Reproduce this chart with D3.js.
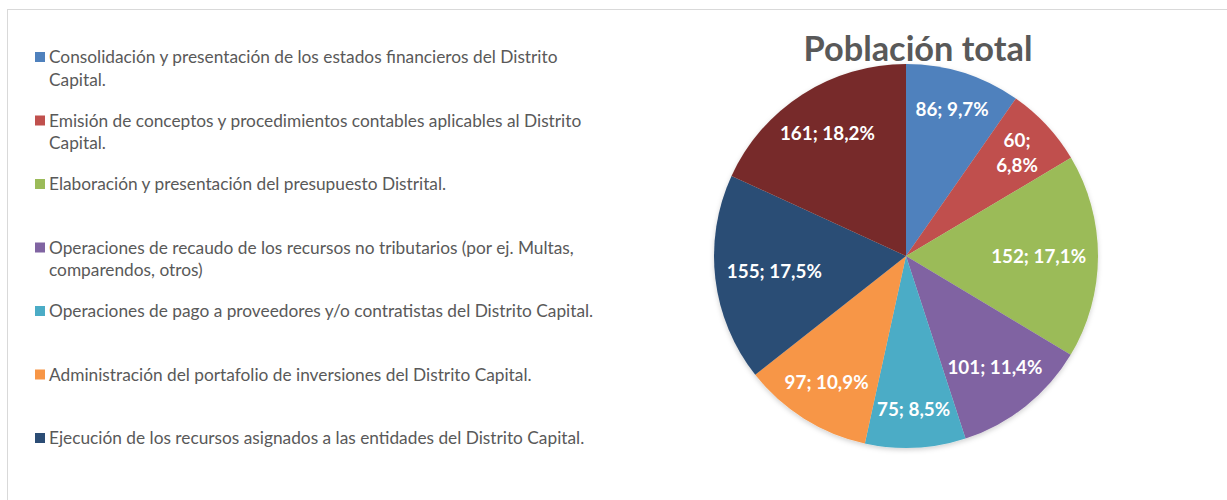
<!DOCTYPE html>
<html>
<head>
<meta charset="utf-8">
<script src="https://cdn.jsdelivr.net/npm/d3@7"></script>
<style>
  body { margin: 0; background: #fff; }
  svg { display: block; }
</style>
</head>
<body>
<div id="chart"></div>
<script>
// ---- data ----
const title = "Población total";
const categories = [
  "Consolidación y presentación de los estados financieros del Distrito Capital.",
  "Emisión de conceptos y procedimientos contables aplicables al Distrito Capital.",
  "Elaboración y presentación del presupuesto Distrital.",
  "Operaciones de recaudo de los recursos no tributarios (por ej. Multas, comparendos, otros)",
  "Operaciones de pago a proveedores y/o contratistas del Distrito Capital.",
  "Administración del portafolio de inversiones del Distrito Capital.",
  "Ejecución de los recursos asignados a las entidades del Distrito Capital."
];
const values = [86, 60, 152, 101, 75, 97, 155, 161];
const colors = ["#4F81BD", "#C0504D", "#9BBB59", "#8064A2", "#4BACC6", "#F79646", "#2C4D75", "#772C2A"];

(function () {
  const width = 1227, height = 500;
  const font = "Lato, 'Open Sans', sans-serif";
  const grey = "#595959";

  const svg = d3.select("#chart").append("svg")
    .attr("width", width)
    .attr("height", height);

  // frame of the chart area
  svg.append("rect")
    .attr("x", 7.5).attr("y", 9.5)
    .attr("width", width + 20).attr("height", height + 20)
    .attr("fill", "#fff")
    .attr("stroke", "#d9d9d9");

  // helper: pick font size so a sample string gets a target width
  function fitSize(sample, weight, target, base) {
    const t = svg.append("text")
      .style("font-family", font).style("font-weight", weight)
      .style("font-size", base + "px").text(sample);
    const w = t.node().getComputedTextLength();
    t.remove();
    return base * target / w;
  }

  // ---------- title ----------
  const titleSize = fitSize(title, 700, 229, 30);
  svg.append("text")
    .attr("x", 918).attr("y", 61)
    .attr("text-anchor", "middle")
    .style("font-family", font).style("font-weight", 700)
    .style("font-size", titleSize + "px")
    .attr("fill", grey)
    .text(title);

  // ---------- pie ----------
  const total = d3.sum(values);
  const cx = 906, cy = 256, r = 192;
  const pie = d3.pie().sort(null).value(d => d)(values);
  const arc = d3.arc().innerRadius(0).outerRadius(r);

  const defs = svg.append("defs");
  const f = defs.append("filter").attr("id", "shadow")
    .attr("x", "-20%").attr("y", "-20%").attr("width", "140%").attr("height", "140%");
  f.append("feDropShadow")
    .attr("dx", 0).attr("dy", 2).attr("stdDeviation", 2.5)
    .attr("flood-color", "#000").attr("flood-opacity", 0.18);

  const g = svg.append("g").attr("transform", `translate(${cx},${cy})`);

  g.append("g").attr("filter", "url(#shadow)")
    .selectAll("path")
    .data(pie)
    .enter()
    .append("path")
    .attr("d", arc)
    .attr("fill", (d, i) => colors[i]);

  const pct = v => d3.format(".1f")(v / total * 100).replace(".", ",") + "%";
  const labelSize = fitSize("152; 17,1%", 700, 95, 18);
  const lh = labelSize * 1.32;

  // "best fit": start at 0.8 r on the mid angle, pull inward until the box fits
  function fitRadius(angle, w, h) {
    const s = Math.sin(angle), c = -Math.cos(angle);
    const lim = r - 11;
    for (let rho = r * 0.8; rho > 0; rho -= 1) {
      const x = rho * s, y = rho * c;
      const fx = Math.abs(x) + w / 2, fy = Math.abs(y) + h / 2;
      if (Math.hypot(fx, fy) <= lim) return rho;
    }
    return 0;
  }

  g.selectAll("text.lbl")
    .data(pie)
    .enter()
    .append("text")
    .attr("class", "lbl")
    .attr("text-anchor", "middle")
    .style("font-family", font).style("font-weight", 700)
    .style("font-size", labelSize + "px")
    .attr("fill", "#fff")
    .each(function (d) {
      const t = d3.select(this);
      const narrow = d.value / total < 0.08;
      const parts = narrow ? [d.value + ";", pct(d.value)] : [d.value + "; " + pct(d.value)];
      parts.forEach((p, k) => {
        t.append("tspan")
          .attr("x", 0)
          .attr("y", (k - (parts.length - 1) / 2) * lh)
          .attr("dy", "0.35em")
          .text(p);
      });
      const w = d3.max(t.selectAll("tspan").nodes(), n => n.getComputedTextLength());
      const h = labelSize * 0.75 + (parts.length - 1) * lh;
      const mid = (d.startAngle + d.endAngle) / 2;
      const rho = fitRadius(mid, w, h);
      t.attr("transform", `translate(${rho * Math.sin(mid)},${-rho * Math.cos(mid)})`);
    });

  // ---------- legend ----------
  const legendSize = fitSize("Consolidación y presentación de los estados financieros del Distrito", 400, 509, 16);
  const lineH = 22.5;
  const maxW = 556;
  const rowY = d3.scaleLinear().domain([0, 1]).range([57, 120.5]);

  const legend = svg.append("g");
  categories.forEach((c, i) => {
    const y = rowY(i);
    legend.append("rect")
      .attr("x", 35).attr("y", y - 5)
      .attr("width", 10).attr("height", 10)
      .attr("fill", colors[i]);

    const t = legend.append("text")
      .style("font-family", font)
      .style("font-size", legendSize + "px")
      .attr("fill", grey);

    // word wrap
    const words = c.split(" ");
    let line = [];
    let n = 0;
    let tspan = t.append("tspan").attr("x", 49).attr("y", y).attr("dy", "0.35em");
    words.forEach(w => {
      line.push(w);
      tspan.text(line.join(" "));
      if (tspan.node().getComputedTextLength() > maxW && line.length > 1) {
        line.pop();
        tspan.text(line.join(" "));
        line = [w];
        n++;
        tspan = t.append("tspan").attr("x", 49).attr("y", y + n * lineH)
          .attr("dy", "0.35em").text(w);
      }
    });
  });
})();
</script>
</body>
</html>
